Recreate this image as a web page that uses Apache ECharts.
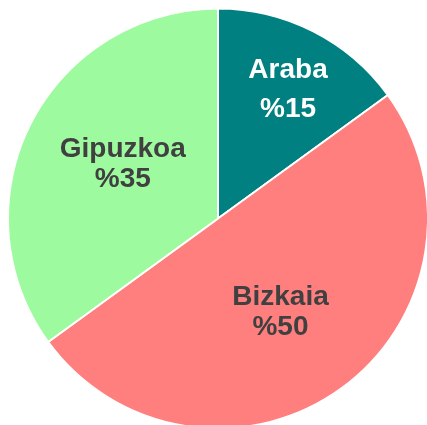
<!DOCTYPE html>
<html>
<head>
<meta charset="utf-8">
<script src="https://cdn.jsdelivr.net/npm/echarts@6/dist/echarts.min.js"></script>
<style>
  html, body { margin: 0; padding: 0; background: #fff; }
  #chart { width: 427px; height: 425px; }
</style>
</head>
<body>
<div id="chart"></div>
<script>
const names = ["Araba", "Bizkaia", "Gipuzkoa"];
const values = [15, 50, 35];
const colors = ["#008080", "#ff7f7f", "#9efa9e"];
const textColors = ["#ffffff", "#404040", "#404040"];
// nudges the inside labels off the mid-radius, as in the picture
const labelShift = [
  [21, -32],
  [-1, 6],
  [1, -5],
];
const labelLineHeight = [39, 30, 30];

const chart = echarts.init(document.getElementById("chart"));

const data = names.map((name, i) => ({
  name: name,
  value: values[i],
  itemStyle: { color: colors[i] },
  label: {
    color: textColors[i],
    lineHeight: labelLineHeight[i],
  },
}));

const option = {
  animation: false,
  series: [
    {
      type: "pie",
      center: [218, 218.5],
      radius: 210,
      startAngle: 90,
      clockwise: true,
      silent: true,
      itemStyle: {
        borderColor: "#fff",
        borderWidth: 2,
      },
      label: {
        show: true,
        position: "inside",
        formatter: "{b}\n%{c}",
        fontFamily: "Liberation Sans, Arial, sans-serif",
        fontWeight: "bold",
        fontSize: 28,
      },
      labelLayout: (params) => ({
        dx: labelShift[params.dataIndex][0],
        dy: labelShift[params.dataIndex][1],
      }),
      labelLine: { show: false },
      data: data,
    },
  ],
};

chart.setOption(option);
</script>
</body>
</html>
